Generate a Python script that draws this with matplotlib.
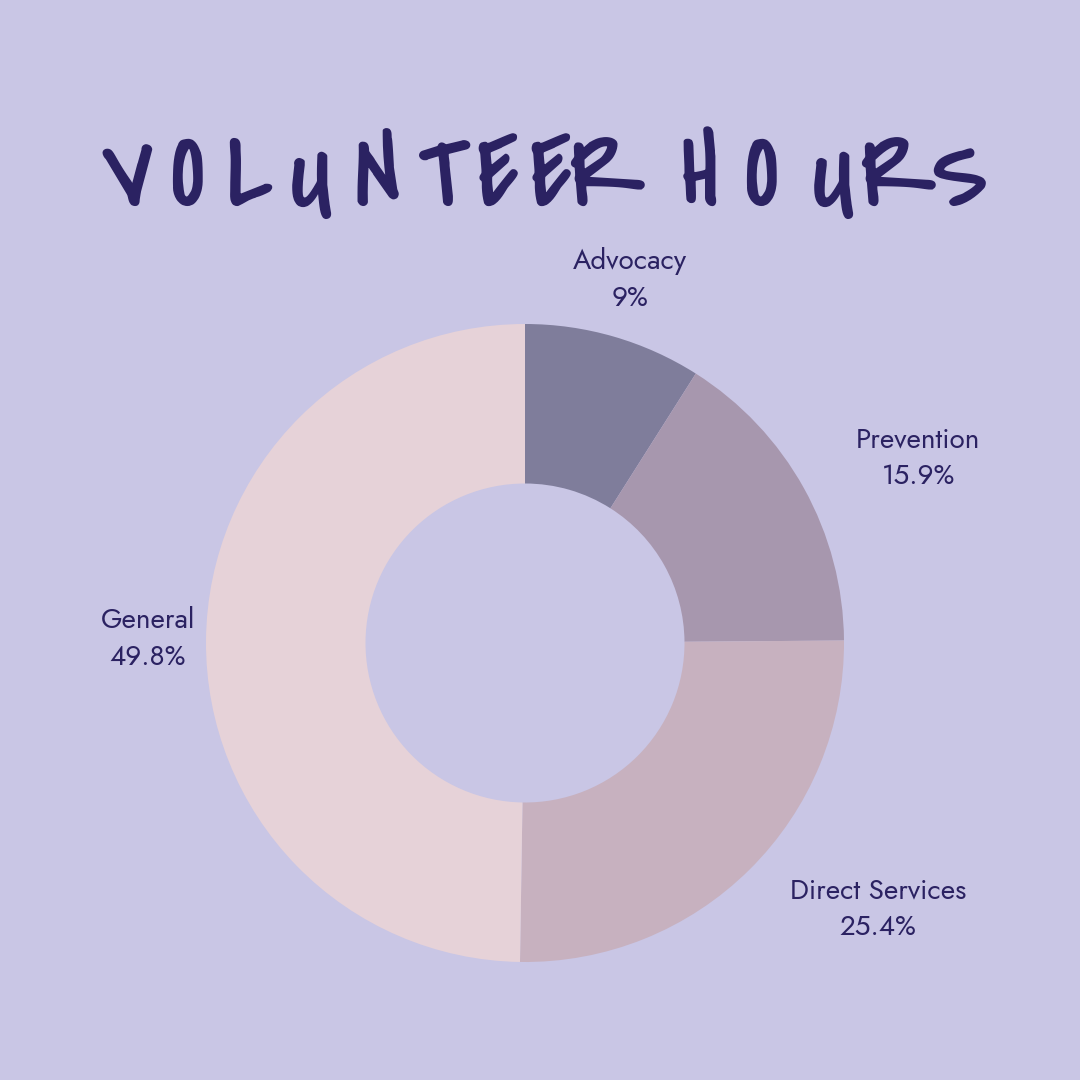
import matplotlib.pyplot as plt
import matplotlib.patheffects as pe

categories = ["Advocacy", "Prevention", "Direct Services", "General"]
shares = [9, 15.9, 25.4, 49.8]
share_labels = ["9%", "15.9%", "25.4%", "49.8%"]
colors = ["#7f7d9b", "#a797ae", "#c7b1bf", "#e6d2d8"]

bg = "#c9c6e5"
ink = "#2b2262"
label_font = ["Jost", "Lato", "DejaVu Sans"]
title_font = ["Covered By Your Grace", "Mansalva", "DejaVu Sans"]

fig = plt.figure(figsize=(10.8, 10.8), dpi=100, facecolor=bg)

# donut: centre at (525, 643) px, outer radius 319 px
cx, cy, r = 525 / 1080, 1 - 643 / 1080, 319 / 1080
ax = fig.add_axes([cx - r, cy - r, 2 * r, 2 * r])
ax.set_facecolor(bg)
ax.pie(shares, colors=colors, startangle=90, counterclock=False,
       radius=1, wedgeprops=dict(width=0.5, linewidth=0))
ax.set_xlim(-1, 1)
ax.set_ylim(-1, 1)
ax.set_aspect("equal")
ax.axis("off")

# labels (pixel positions of the text blocks)
label_pos = {
    "Advocacy": (630, 261),
    "Prevention": (918, 439),
    "Direct Services": (878, 890),
    "General": (148, 620),
}
for cat, pct in zip(categories, share_labels):
    px, py = label_pos[cat]
    fig.text(px / 1080, 1 - py / 1080, cat, ha="center", va="center",
             fontsize=20, color=ink, family=label_font)
    fig.text(px / 1080, 1 - (py + 37) / 1080, pct, ha="center", va="center",
             fontsize=20, color=ink, family=label_font)

# spaced-out title, one letter at a time (thin stroke thickens the brush font)
title = "VOLUNTEER HOURS"
letter_x = [128, 188, 250, 310, 378, 441, 498, 551, 607, None,
            700, 762, 832, 898, 960]
for ch, x in zip(title, letter_x):
    if x is None:
        continue
    fig.text(x / 1080, 1 - 205 / 1080, ch, ha="center", va="baseline",
             fontsize=72, color=ink, family=title_font,
             path_effects=[pe.withStroke(linewidth=1.5, foreground=ink)])

fig.savefig("out.png", dpi=100, facecolor=bg)
